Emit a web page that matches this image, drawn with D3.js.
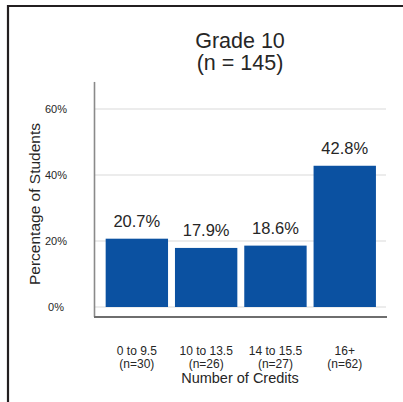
<!DOCTYPE html>
<html><head><meta charset="utf-8">
<script src="https://cdn.jsdelivr.net/npm/d3@7"></script>
<style>body{margin:0;background:#fff}svg{display:block}text{font-family:"Liberation Sans",Arial,sans-serif;fill:#262626}</style>
</head><body>
<script>
const categories = ["0 to 9.5", "10 to 13.5", "14 to 15.5", "16+"];
const counts = ["(n=30)", "(n=26)", "(n=27)", "(n=62)"];
const values = [20.7, 17.9, 18.6, 42.8];
const yTicks = [0, 20, 40, 60];
const titleLines = ["Grade 10", "(n = 145)"];

const W = 403, H = 402;
const svg = d3.select("body").append("svg").attr("width", W).attr("height", H);

// outer frame (left and top)
svg.append("path").attr("d", "M8,402V6H403").attr("fill", "none").attr("stroke", "#231f20").attr("stroke-width", 2.2);

const x = d3.scaleBand().domain(categories).range([102.2, 379.4]).paddingInner(0.1).paddingOuter(0.05);
const y = d3.scaleLinear().domain([0, 60]).range([307, 109]);
const axisTop = y(68.2), axisBottom = y(-3);

// gridlines
svg.append("g").selectAll("line").data(yTicks).join("line")
  .attr("x1", 95).attr("x2", 386).attr("y1", d => y(d)).attr("y2", d => y(d))
  .attr("stroke", "#e6e6e6").attr("stroke-width", 1.5);

// bars
svg.append("g").selectAll("rect").data(values).join("rect")
  .attr("x", (d, i) => x(categories[i])).attr("width", x.bandwidth())
  .attr("y", d => y(d)).attr("height", d => y(0) - y(d))
  .attr("fill", "#0b51a1");

// value labels
svg.append("g").selectAll("text").data(values).join("text")
  .attr("x", (d, i) => x(categories[i]) + x.bandwidth() / 2)
  .attr("y", d => y(d) - 12)
  .attr("text-anchor", "middle").attr("font-size", 16.5)
  .text(d => d.toFixed(1) + "%");

// y axis line
svg.append("line").attr("x1", 94.5).attr("x2", 94.5).attr("y1", axisTop).attr("y2", axisBottom)
  .attr("stroke", "#8a8a8a").attr("stroke-width", 1.6);
// bottom axis line
svg.append("line").attr("x1", 94).attr("x2", 387).attr("y1", axisBottom).attr("y2", axisBottom)
  .attr("stroke", "#6e6e6e").attr("stroke-width", 2);

// y tick labels
svg.append("g").selectAll("text").data(yTicks).join("text")
  .attr("x", 56).attr("y", d => y(d)).attr("dy", "0.35em")
  .attr("text-anchor", "middle").attr("font-size", 11)
  .text(d => d + "%");

// y title
svg.append("text").attr("transform", "translate(40,204) rotate(-90)")
  .attr("text-anchor", "middle").attr("font-size", 15.5).text("Percentage of Students");

// x labels
const xl = svg.append("g").selectAll("g").data(categories).join("g")
  .attr("transform", d => `translate(${x(d) + x.bandwidth() / 2},0)`);
xl.append("text").attr("y", 354.5).attr("text-anchor", "middle").attr("font-size", 12).text(d => d);
xl.append("text").attr("y", 368).attr("text-anchor", "middle").attr("font-size", 12).text((d, i) => counts[i]);

svg.append("text").attr("x", 240).attr("y", 383).attr("text-anchor", "middle").attr("font-size", 14.5).text("Number of Credits");

// title
svg.append("g").selectAll("text").data(titleLines).join("text")
  .attr("x", 240).attr("y", (d, i) => 48 + i * 22)
  .attr("text-anchor", "middle").attr("font-size", 21.5)
  .text(d => d);
</script>
</body></html>
